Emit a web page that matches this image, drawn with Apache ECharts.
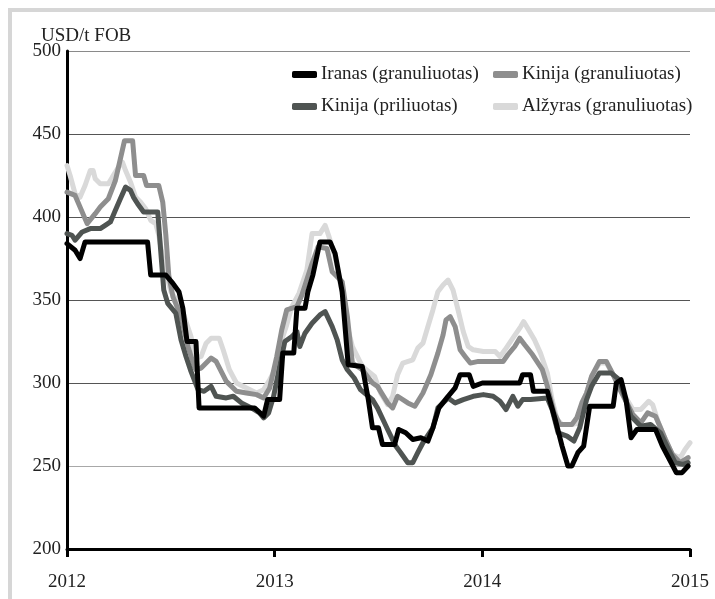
<!DOCTYPE html>
<html lang="lt">
<head>
    <meta charset="UTF-8">
    <title>Kainos</title>
    <script src="https://cdn.jsdelivr.net/npm/echarts@6/dist/echarts.min.js"></script>
    <style>
        html, body {margin: 0; padding: 0; background: #fff;}
    </style>
</head>
<body>
<div id="chartBox" style="width: 715px; height: 599px;"></div>
</body>
<script>
  // serijų pavadinimai
  var names = ['Iranas (granuliuotas)', 'Kinija (granuliuotas)', 'Kinija (priliuotas)', 'Alžyras (granuliuotas)'];
  var colors = ['#000000', '#8e8e8e', '#4f5452', '#d9d9d9'];
  var yTicks = [200, 250, 300, 350, 400, 450, 500];
  var years = [2012, 2013, 2014, 2015];

  // [metai, USD/t]
  var iranas = [
    [2012.000, 384], [2012.039, 380], [2012.063, 375], [2012.087, 385], [2012.388, 385], [2012.403, 365],
    [2012.476, 365], [2012.510, 360], [2012.539, 355], [2012.558, 345], [2012.578, 325], [2012.621, 325],
    [2012.636, 285], [2012.903, 285], [2012.947, 280], [2012.966, 290], [2013.024, 290], [2013.039, 318],
    [2013.092, 318], [2013.107, 345], [2013.146, 345], [2013.160, 355], [2013.184, 365], [2013.218, 385],
    [2013.267, 385], [2013.291, 378], [2013.325, 355], [2013.354, 311], [2013.422, 310], [2013.451, 290],
    [2013.471, 273], [2013.500, 273], [2013.519, 263], [2013.578, 263], [2013.597, 272], [2013.631, 270],
    [2013.665, 266], [2013.704, 267], [2013.738, 265], [2013.762, 273], [2013.791, 285], [2013.835, 292],
    [2013.869, 297], [2013.893, 305], [2013.937, 305], [2013.956, 298], [2014.000, 300], [2014.180, 300],
    [2014.194, 305], [2014.232, 305], [2014.246, 295], [2014.313, 295], [2014.351, 278], [2014.384, 262],
    [2014.412, 250], [2014.431, 250], [2014.460, 258], [2014.488, 262], [2014.517, 286], [2014.630, 286],
    [2014.645, 300], [2014.668, 302], [2014.692, 290], [2014.716, 267], [2014.744, 272], [2014.834, 272],
    [2014.867, 262], [2014.905, 253], [2014.934, 246], [2014.962, 246], [2014.991, 250]
  ];

  var kinijaGran = [
    [2012.000, 415], [2012.039, 413], [2012.097, 396], [2012.136, 402], [2012.160, 406], [2012.199, 411],
    [2012.233, 422], [2012.257, 435], [2012.277, 446], [2012.316, 446], [2012.330, 425], [2012.369, 425],
    [2012.383, 419], [2012.442, 419], [2012.461, 409], [2012.476, 389], [2012.490, 365], [2012.510, 352],
    [2012.549, 340], [2012.583, 322], [2012.612, 310], [2012.621, 308], [2012.646, 309], [2012.694, 315],
    [2012.718, 313], [2012.767, 301], [2012.816, 295], [2012.864, 294], [2012.913, 293], [2012.947, 291],
    [2012.976, 297], [2013.010, 316], [2013.034, 332], [2013.058, 344], [2013.107, 346], [2013.131, 353],
    [2013.180, 372], [2013.209, 382], [2013.252, 381], [2013.277, 367], [2013.325, 361], [2013.350, 340],
    [2013.374, 312], [2013.422, 308], [2013.471, 300], [2013.495, 298], [2013.544, 288], [2013.568, 285],
    [2013.592, 292], [2013.641, 288], [2013.675, 286], [2013.714, 294], [2013.752, 305], [2013.786, 318],
    [2013.811, 329], [2013.825, 338], [2013.845, 340], [2013.869, 334], [2013.893, 320], [2013.917, 316],
    [2013.942, 312], [2013.981, 313], [2014.052, 313], [2014.100, 313], [2014.123, 317], [2014.156, 322],
    [2014.180, 327], [2014.204, 323], [2014.242, 317], [2014.289, 308], [2014.313, 298], [2014.346, 282],
    [2014.374, 275], [2014.431, 275], [2014.455, 279], [2014.479, 288], [2014.502, 294], [2014.526, 304],
    [2014.564, 313], [2014.597, 313], [2014.630, 305], [2014.659, 297], [2014.692, 289], [2014.725, 281],
    [2014.763, 276], [2014.796, 282], [2014.834, 280], [2014.858, 273], [2014.882, 266], [2014.915, 257],
    [2014.953, 252], [2014.991, 255]
  ];

  var kinijaPril = [
    [2012.000, 390], [2012.024, 389], [2012.039, 386], [2012.073, 391], [2012.112, 393], [2012.160, 393],
    [2012.184, 395], [2012.209, 397], [2012.233, 404], [2012.257, 411], [2012.282, 418], [2012.306, 416],
    [2012.320, 412], [2012.340, 408], [2012.369, 403], [2012.437, 403], [2012.451, 380], [2012.466, 356],
    [2012.485, 348], [2012.524, 342], [2012.549, 326], [2012.573, 316], [2012.597, 307], [2012.631, 296],
    [2012.660, 295], [2012.694, 298], [2012.718, 292], [2012.767, 291], [2012.801, 292], [2012.840, 288],
    [2012.888, 285], [2012.927, 282], [2012.947, 279], [2012.971, 282], [2012.995, 292], [2013.024, 310],
    [2013.049, 325], [2013.083, 328], [2013.107, 331], [2013.121, 322], [2013.146, 330], [2013.180, 336],
    [2013.218, 341], [2013.243, 343], [2013.277, 334], [2013.301, 326], [2013.325, 314], [2013.350, 308],
    [2013.383, 303], [2013.413, 296], [2013.471, 290], [2013.495, 285], [2013.544, 272], [2013.583, 262],
    [2013.607, 258], [2013.641, 252], [2013.665, 252], [2013.689, 258], [2013.714, 264], [2013.762, 273],
    [2013.786, 285], [2013.835, 291], [2013.869, 288], [2013.908, 290], [2013.956, 292], [2014.005, 293],
    [2014.052, 292], [2014.085, 289], [2014.114, 284], [2014.147, 292], [2014.171, 286], [2014.194, 290],
    [2014.232, 290], [2014.313, 291], [2014.336, 284], [2014.365, 270], [2014.408, 268], [2014.441, 265],
    [2014.469, 273], [2014.502, 290], [2014.526, 298], [2014.564, 306], [2014.621, 306], [2014.659, 302],
    [2014.716, 280], [2014.763, 274], [2014.810, 275], [2014.858, 270], [2014.896, 260], [2014.929, 252],
    [2014.967, 251], [2014.991, 252]
  ];

  var alzyras = [
    [2012.000, 431], [2012.015, 425], [2012.039, 414], [2012.063, 412], [2012.087, 419], [2012.112, 428],
    [2012.126, 428], [2012.136, 423], [2012.160, 420], [2012.199, 420], [2012.218, 424], [2012.248, 430],
    [2012.267, 433], [2012.282, 428], [2012.306, 421], [2012.330, 412], [2012.354, 409], [2012.379, 405],
    [2012.403, 398], [2012.427, 396], [2012.442, 389], [2012.461, 375], [2012.500, 355], [2012.549, 346],
    [2012.597, 328], [2012.621, 315], [2012.646, 316], [2012.670, 324], [2012.694, 327], [2012.733, 327],
    [2012.752, 320], [2012.782, 308], [2012.816, 300], [2012.864, 297], [2012.913, 294], [2012.947, 296],
    [2012.976, 302], [2013.010, 310], [2013.034, 326], [2013.058, 335], [2013.083, 346], [2013.117, 354],
    [2013.155, 368], [2013.180, 390], [2013.218, 390], [2013.243, 395], [2013.262, 388], [2013.291, 376],
    [2013.325, 354], [2013.350, 334], [2013.374, 322], [2013.422, 310], [2013.481, 304], [2013.510, 294],
    [2013.544, 287], [2013.568, 292], [2013.592, 305], [2013.617, 312], [2013.665, 314], [2013.689, 321],
    [2013.714, 324], [2013.738, 334], [2013.762, 344], [2013.786, 355], [2013.811, 359], [2013.835, 362],
    [2013.859, 356], [2013.883, 344], [2013.908, 331], [2013.932, 322], [2013.956, 320], [2014.005, 319],
    [2014.062, 319], [2014.085, 316], [2014.109, 320], [2014.147, 327], [2014.185, 334], [2014.199, 337],
    [2014.223, 332], [2014.251, 326], [2014.280, 318], [2014.313, 306], [2014.336, 290], [2014.360, 278],
    [2014.384, 275], [2014.431, 275], [2014.469, 276], [2014.502, 294], [2014.526, 304], [2014.564, 312],
    [2014.597, 312], [2014.645, 302], [2014.692, 291], [2014.725, 284], [2014.763, 284], [2014.801, 289],
    [2014.820, 287], [2014.848, 276], [2014.882, 266], [2014.915, 257], [2014.953, 255], [2014.976, 260],
    [2015.000, 264]
  ];

  var serif = "'Liberation Serif', 'DejaVu Serif', serif";
  var chart = echarts.init(document.getElementById('chartBox'));

  function legendAt(name, left, top) {
    return {
      data: [name],
      left: left,
      top: top,
      padding: 0,
      icon: 'roundRect',
      itemWidth: 25,
      itemHeight: 7,
      selectedMode: false,
      textStyle: {fontFamily: serif, fontSize: 19, color: '#222', padding: [0, 0, 0, -1]}
    };
  }

  function lineSeries(idx, data, z) {
    return {
      name: names[idx],
      type: 'line',
      data: data,
      showSymbol: false,
      symbol: 'none',
      z: z,
      lineStyle: {width: 5, color: colors[idx], join: 'round', cap: 'round'},
      itemStyle: {color: colors[idx]},
      emphasis: {disabled: true}
    };
  }

  var option = {
    backgroundColor: '#fff',
    animation: false,
    title: {
      text: 'USD/t FOB',
      left: 41,
      top: 27,
      padding: 0,
      textStyle: {fontFamily: serif, fontSize: 19, fontWeight: 'normal', color: '#222'}
    },
    graphic: [{
      type: 'rect',
      shape: {x: 10, y: 10, width: 800, height: 700},
      style: {fill: 'none', stroke: '#d6d6d6', lineWidth: 4},
      z: -10
    }],
    legend: [
      legendAt(names[0], 292, 65),
      legendAt(names[1], 493, 65),
      legendAt(names[2], 292, 97),
      legendAt(names[3], 493, 97)
    ],
    grid: {left: 67, right: 25, top: 51, bottom: 50},
    xAxis: {
      type: 'value',
      min: years[0],
      max: years[years.length - 1],
      interval: 1,
      axisLine: {show: true, onZero: false, lineStyle: {color: '#000', width: 3}},
      axisTick: {show: true, length: 8, lineStyle: {color: '#000', width: 3}},
      axisLabel: {
        margin: 24,
        fontFamily: serif,
        fontSize: 19,
        color: '#222',
        formatter: function (v) { return String(v); }
      },
      splitLine: {show: false}
    },
    yAxis: {
      type: 'value',
      min: yTicks[0],
      max: yTicks[yTicks.length - 1],
      interval: 50,
      axisLine: {show: true, lineStyle: {color: '#000', width: 3}},
      axisTick: {show: false},
      axisLabel: {margin: 6, fontFamily: serif, fontSize: 19, color: '#222'},
      splitLine: {
        show: true,
        lineStyle: {color: ['#000', '#a8a8a8', '#555', '#555', '#555', '#555', '#8a8a8a'], width: 1.2}
      }
    },
    series: [
      lineSeries(0, iranas, 5),
      lineSeries(1, kinijaGran, 3),
      lineSeries(2, kinijaPril, 4),
      lineSeries(3, alzyras, 2)
    ]
  };

  chart.setOption(option);
</script>
</html>
